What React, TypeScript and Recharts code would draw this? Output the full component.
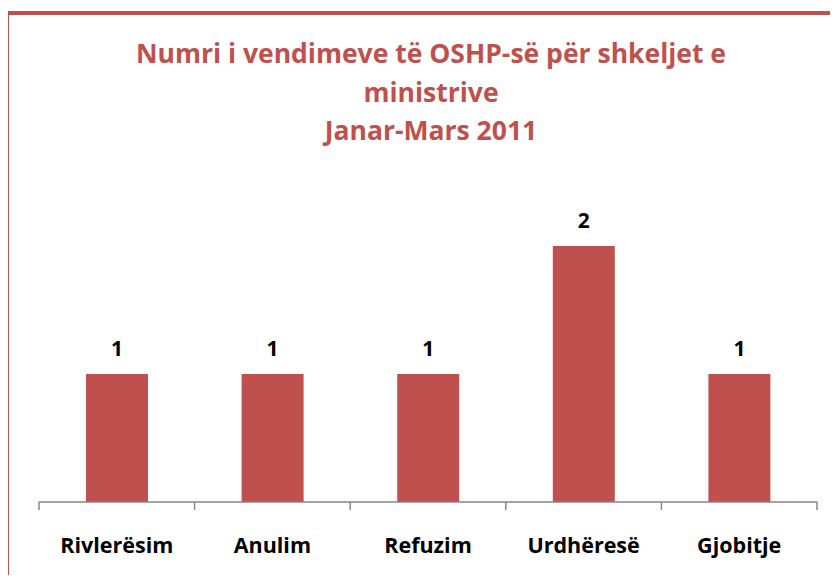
import React from "react"
import { Bar, BarChart, LabelList, XAxis, YAxis } from "recharts"

const categories = ["Rivlerësim", "Anulim", "Refuzim", "Urdhëresë", "Gjobitje"]
const decisions = [1, 1, 1, 2, 1]
const titleLines = ["Numri i vendimeve të OSHP-së për shkeljet e", "ministrive", "Janar-Mars 2011"]

const data = categories.map((name, i) => ({ name, value: decisions[i] }))

const RED = "#C0504D"
const FONT = "'Open Sans', sans-serif"
const plotLeft = 39
const plotRight = 817
const band = (plotRight - plotLeft) / categories.length

const CategoryTick = (props: any) => {
  const { x, y, payload, index } = props
  const left = x - band / 2
  const right = x + band / 2
  return (
    <g>
      <line x1={left} y1={y - 8} x2={left} y2={y} stroke="#868686" strokeWidth={1.5} />
      {index === categories.length - 1 && (
        <line x1={right} y1={y - 8} x2={right} y2={y} stroke="#868686" strokeWidth={1.5} />
      )}
      <text x={x} y={y + 43} textAnchor="middle" fontFamily={FONT} fontWeight={700} fontSize={21.5} fill="#000">
        {payload.value}
      </text>
    </g>
  )
}

export default function App() {
  return (
    <div style={{ position: "relative", width: 838, height: 583, margin: -8, overflow: "hidden", background: "#fff" }}>
      <div
        style={{
          position: "absolute",
          left: 5,
          top: 11,
          width: 900,
          height: 700,
          borderLeft: `4px solid ${RED}`,
          borderTop: `4px solid ${RED}`,
        }}
      />
      <div
        style={{
          position: "absolute",
          left: 0,
          top: 34,
          width: 862,
          textAlign: "center",
          color: RED,
          fontFamily: FONT,
          fontWeight: 700,
          fontSize: 26.5,
          lineHeight: "38.5px",
        }}
      >
        {titleLines.map((t) => (
          <div key={t}>{t}</div>
        ))}
      </div>
      <div style={{ position: "absolute", left: 0, top: 0 }}>
        <BarChart
          width={838}
          height={583}
          data={data}
          margin={{ top: 182, right: 838 - plotRight, bottom: 0, left: plotLeft }}
          barCategoryGap={47}
        >
          <XAxis
            dataKey="name"
            axisLine={{ stroke: "#868686", strokeWidth: 1.5 }}
            tickLine={false}
            tick={<CategoryTick />}
            interval={0}
            height={81}
          />
          <YAxis hide domain={[0, 2.5]} />
          <Bar dataKey="value" fill={RED} isAnimationActive={false}>
            <LabelList
              dataKey="value"
              position="top"
              offset={18}
              fill="#000"
              fontFamily={FONT}
              fontWeight={700}
              fontSize={21}
            />
          </Bar>
        </BarChart>
      </div>
    </div>
  )
}
